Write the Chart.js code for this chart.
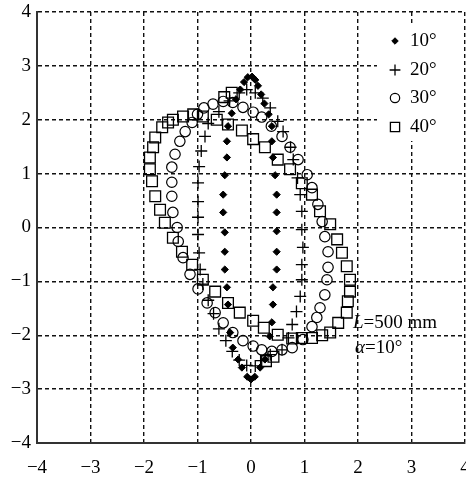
<!DOCTYPE html>
<html>
<head>
<meta charset="utf-8">
<script src="https://cdn.jsdelivr.net/npm/chart.js@4.4.1/dist/chart.umd.min.js"></script>
<style>
  html, body { margin: 0; padding: 0; background: #fff; }
</style>
</head>
<body>
<canvas id="chart" width="466" height="477"></canvas>
<script>
// axis ticks (both axes)
const axisTicks = [-4, -3, -2, -1, 0, 1, 2, 3, 4]
const seriesLabels = ['10°', '20°', '30°', '40°']

// 10° (diamonds)
const x10 = [-0.45, -0.43, -0.36, -0.28, -0.2, -0.13, -0.06, 0.02, 0.08, 0.13, 0.19, 0.25, 0.33, 0.39,
    0.39, 0.41, 0.45, 0.48, 0.48, 0.48, 0.48, 0.48, 0.41, 0.41, 0.39, 0.35, 0.26, 0.17, 0.07, 0,
    -0.07, -0.17, -0.24, -0.34, -0.39, -0.43, -0.45, -0.49, -0.49, -0.49, -0.52, -0.52, -0.49, -0.45]
const y10 = [1.6, 1.88, 2.12, 2.38, 2.56, 2.7, 2.79, 2.8, 2.74, 2.63, 2.47, 2.3, 2.1, 1.88,
    1.6, 1.3, 0.97, 0.61, 0.28, -0.07, -0.45, -0.78, -1.11, -1.43, -1.76, -2.02, -2.45, -2.6, -2.77, -2.82,
    -2.77, -2.6, -2.45, -2.23, -1.95, -1.43, -1.11, -0.78, -0.45, -0.09, 0.28, 0.61, 0.97, 1.3]

// 20° (plus)
const x20 = [-0.97, -0.99, -0.99, -0.99, -0.99, -0.97, -0.95, -0.9, -0.8, -0.7, -0.6, -0.47, -0.35, -0.22,
    -0.08, 0.08, 0.2, 0.36, 0.58, 0.7, 0.77, 0.85, 0.92, 0.95, 0.95, 0.97, 0.95, 0.95, 0.92, 0.87,
    0.79, 0.74, 0.6, 0.5, 0.36, 0.22, 0.08, -0.08, -0.22, -0.4, -0.6, -0.8, -0.86, -0.93]
const y20 = [1.13, 0.83, 0.48, 0.19, -0.13, -0.47, -0.78, -1.05, -1.35, -1.6, -1.88, -2.1, -2.3, -2.46,
    -2.56, -2.57, -2.47, -2.36, -2.27, -2.05, -1.8, -1.56, -1.28, -0.97, -0.69, -0.37, -0.04, 0.3, 0.61, 0.92,
    1.26, 1.49, 1.78, 1.97, 2.22, 2.4, 2.5, 2.56, 2.5, 2.35, 2.15, 1.93, 1.69, 1.42]

// 30° (circles)
const x30 = [-1.48, -1.48, -1.42, -1.33, -1.23, -1.1, -1.0, -0.88, -0.71, -0.52, -0.34, -0.15, 0.04, 0.2,
    0.38, 0.58, 0.73, 0.88, 1.05, 1.14, 1.25, 1.33, 1.38, 1.44, 1.44, 1.42, 1.38, 1.29, 1.23, 1.14,
    0.97, 0.77, 0.58, 0.39, 0.2, 0.04, -0.15, -0.34, -0.52, -0.67, -0.82, -0.99, -1.14, -1.27, -1.36,
    -1.38, -1.46, -1.48]
const y30 = [0.84, 1.12, 1.36, 1.6, 1.78, 1.95, 2.1, 2.22, 2.29, 2.34, 2.32, 2.23, 2.14, 2.05,
    1.88, 1.69, 1.49, 1.26, 0.98, 0.74, 0.43, 0.11, -0.17, -0.45, -0.74, -0.97, -1.25, -1.49, -1.67, -1.84,
    -2.08, -2.23, -2.27, -2.3, -2.27, -2.2, -2.1, -1.95, -1.77, -1.58, -1.4, -1.14, -0.87, -0.56, -0.26,
    0, 0.28, 0.58]

// 40° (squares)
const x40 = [-1.89, -1.89, -1.85, -1.79, -1.7, -1.61, -1.46, -1.29, -1.1, -0.9, -0.67, -0.43, -0.21, 0.04,
    0.24, 0.5, 0.77, 0.95, 1.14, 1.33, 1.48, 1.63, 1.79, 1.81, 1.85, 1.85, 1.79, 1.7, 1.61, 1.48,
    1.29, 1.14, 0.95, 0.73, 0.5, 0.26, 0.04, -0.17, -0.43, -0.64, -0.9, -1.08, -1.27, -1.46, -1.55,
    -1.66, -1.79, -1.83, -0.5, -0.36, 0.28, 0.42]
const y40 = [1.3, 1.08, 0.86, 0.58, 0.33, 0.09, -0.19, -0.45, -0.69, -0.97, -1.19, -1.4, -1.58, -1.73,
    -1.86, -1.99, -2.06, -2.05, -2.05, -2.0, -1.95, -1.77, -1.58, -1.37, -1.19, -0.97, -0.72, -0.47, -0.22, 0.06,
    0.3, 0.61, 0.82, 1.08, 1.26, 1.49, 1.64, 1.8, 1.91, 2.0, 2.06, 2.1, 2.06, 2.0, 1.95,
    1.86, 1.67, 1.49, 2.42, 2.5, -2.48, -2.4]

const serif = '"Liberation Serif", "DejaVu Serif", serif'

function toPoints(xs, ys) {
    return xs.map((x, i) => ({ x, y: ys[i] }))
}

const markerStyles = [
    { pointStyle: 'rectRot', pointRadius: 3.6, backgroundColor: '#000', borderWidth: 1 },
    { pointStyle: 'cross', pointRadius: 6, backgroundColor: 'rgba(0,0,0,0)', borderWidth: 1.3 },
    { pointStyle: 'circle', pointRadius: 5.2, backgroundColor: 'rgba(0,0,0,0)', borderWidth: 1.2 },
    { pointStyle: 'rect', pointRadius: 7.6, backgroundColor: 'rgba(0,0,0,0)', borderWidth: 1.3 }
]
const seriesData = [[x10, y10], [x20, y20], [x30, y30], [x40, y40]]

const datasets = seriesData.map(([xs, ys], i) => ({
    label: seriesLabels[i],
    data: toPoints(xs, ys),
    borderColor: '#000',
    pointHoverRadius: markerStyles[i].pointRadius,
    ...markerStyles[i]
}))

// legend inside the plot, top right (white box over the grid) + the L / alpha note
const notePlugin = {
    id: 'notes',
    afterDraw(chart) {
        const ctx = chart.ctx
        ctx.save()
        ctx.fillStyle = '#fff'
        ctx.fillRect(377, 25, 87, 116)

        ctx.font = '19px ' + serif
        ctx.textBaseline = 'middle'
        const rowsY = [41, 70, 98, 127]
        chart.data.datasets.forEach((ds, i) => {
            ctx.fillStyle = ds.backgroundColor
            ctx.strokeStyle = '#000'
            ctx.lineWidth = ds.borderWidth
            Chart.helpers.drawPoint(ctx, {
                pointStyle: ds.pointStyle,
                radius: i === 3 ? 6.5 : ds.pointRadius * 0.9,
                borderWidth: ds.borderWidth,
                rotation: 0
            }, 395, rowsY[i])
            ctx.fillStyle = '#000'
            ctx.textAlign = 'left'
            ctx.fillText(ds.label, 410, rowsY[i])
        })

        ctx.fillStyle = '#000'
        ctx.font = 'italic 19px ' + serif
        ctx.fillText('L', 353, 323)
        let w = ctx.measureText('L').width
        ctx.font = '19px ' + serif
        ctx.fillText('=500 mm', 353 + w, 323)

        ctx.font = 'italic 19px ' + serif
        ctx.fillText('α', 355, 348)
        w = ctx.measureText('α').width
        ctx.font = '19px ' + serif
        ctx.fillText('=10°', 355 + w, 348)
        ctx.restore()
    }
}

function axisOptions(isX) {
    return {
        type: 'linear',
        min: axisTicks[0],
        max: axisTicks[axisTicks.length - 1],
        afterBuildTicks: scale => {
            scale.ticks = axisTicks.map(v => ({ value: v }))
        },
        afterFit: scale => {
            if (isX) scale.height = 34
            else scale.width = 37
            scale.paddingLeft = 0
            scale.paddingRight = 0
            scale.paddingTop = 0
            scale.paddingBottom = 0
        },
        grid: {
            color: '#111',
            lineWidth: 1.4,
            drawTicks: false
        },
        border: {
            display: true,
            color: '#333',
            width: 2,
            dash: [4, 3]
        },
        ticks: {
            color: '#000',
            padding: isX ? 14 : 6,
            font: { family: serif, size: 19 },
            callback: v => String(v).replace('-', '\u2212')
        }
    }
}

new Chart(document.getElementById('chart'), {
    type: 'scatter',
    data: { datasets },
    options: {
        responsive: false,
        animation: false,
        layout: { autoPadding: false, padding: { top: 12, right: 1, left: 0, bottom: 0 } },
        plugins: {
            legend: { display: false },
            tooltip: { enabled: false }
        },
        scales: {
            x: axisOptions(true),
            y: axisOptions(false)
        }
    },
    plugins: [notePlugin]
})
</script>
</body>
</html>
